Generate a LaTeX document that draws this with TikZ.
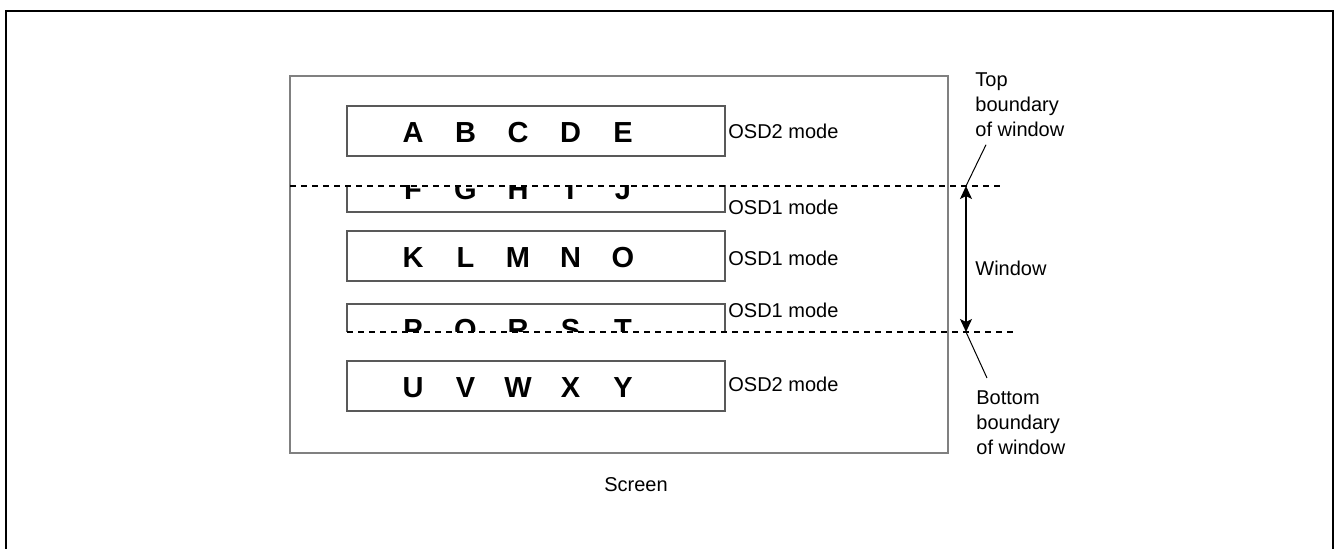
\documentclass[tikz,border=0pt]{standalone}
\usepackage{fontspec}
\setmainfont{Liberation Sans}
\usetikzlibrary{arrows.meta,calc,positioning}

\begin{document}
\begin{tikzpicture}[x=0.5pt,y=-0.5pt,>={Stealth[length=6.5pt,width=6pt,inset=1.5pt]},font=\fontsize{10}{12.5}\selectfont]
 \tikzset{row/.style={draw=black!65,line width=0.6pt,minimum width=189pt,minimum height=25pt,inner sep=0pt},
          letter/.style={font=\fontsize{14.5}{17}\selectfont\bfseries,inner sep=0pt,anchor=base},
          mode/.style={anchor=west,inner sep=0pt},
          note/.style={align=left,anchor=north west,inner sep=0pt},
          bound/.style={dash pattern=on 3pt off 2.5pt,line width=0.9pt},
          arr/.style={<->,line width=0.7pt}}
 \useasboundingbox (0,0) rectangle (1335,549);
 \draw[line width=1.4pt] (6,560) -- (6,11) -- (1333,11) -- (1333,560);
 \node[draw=gray,line width=1pt,minimum width=329pt,minimum height=188.5pt,inner sep=0pt] (screen) at (619,264.5) {};
 \node[inner sep=0pt] (scrl) at (636,485) {Screen};
 % full rows
 \node[row] (r1) at (536,131) {};
 \foreach \c [count=\i] in {A,B,C,D,E} \node[letter] (a\i) at (360.5+52.5*\i,143) {\c};
 \node[row] (r3) at (536,256) {};
 \foreach \c [count=\i] in {K,L,M,N,O} \node[letter] (k\i) at (360.5+52.5*\i,268) {\c};
 \node[row] (r5) at (536,386) {};
 \foreach \c [count=\i] in {U,V,W,X,Y} \node[letter] (u\i) at (360.5+52.5*\i,398) {\c};
 % rows cut by the window
 \begin{scope}
  \clip (340,186) rectangle (740,220);
  \node[row] (r2) at (536,187) {};
  \foreach \c [count=\i] in {F,G,H,I,J} \node[letter] (f\i) at (360.5+52.5*\i,200) {\c};
 \end{scope}
 \begin{scope}
  \clip (340,296) rectangle (740,332);
  \node[row] (r4) at (536,329) {};
  \foreach \c [count=\i] in {P,Q,R,S,T} \node[letter] (p\i) at (360.5+52.5*\i,340) {\c};
 \end{scope}
 \node[mode] (m1) at (728,131) {OSD2 mode};
 \node[mode] (m2) at (728,207) {OSD1 mode};
 \node[mode] (m3) at (728,258) {OSD1 mode};
 \node[mode] (m4) at (728,310) {OSD1 mode};
 \node[mode] (m5) at (728,384) {OSD2 mode};
 % window boundaries
 \coordinate (wtop) at (966,186);
 \coordinate (wbot) at (966,332);
 \draw[bound] (290,186) -- (1000,186);
 \draw[bound] (347,332) -- (1013,332);
 \draw[arr] (wtop) -- (wbot);
 \node[mode] (win) at (975,268) {Window};
 \node[note] (topl) at (975,72) {Top\\boundary\\of window};
 \node[note] (botl) at (976,390) {Bottom\\boundary\\of window};
 \draw[line width=0.5pt] (wtop) -- ($(topl.south west)+(11,8)$);
 \draw[line width=0.5pt] (wbot) -- ($(botl.north west)+(11,-12)$);
\end{tikzpicture}
\end{document}
